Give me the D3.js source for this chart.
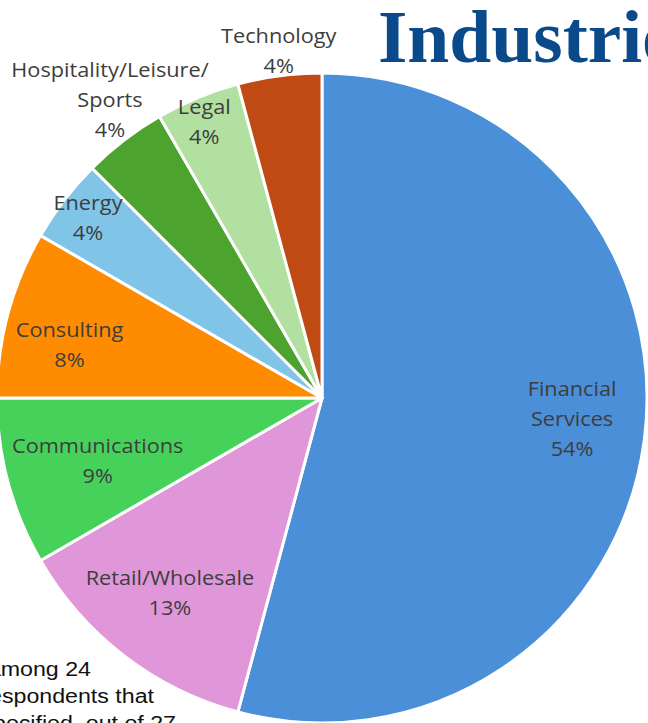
<!DOCTYPE html>
<html>
<head>
<meta charset="utf-8">
<script src="https://cdn.jsdelivr.net/npm/d3@7"></script>
<style>
	html, body { margin: 0; padding: 0; background: #fff; overflow: hidden; }
	svg { display: block; }
</style>
</head>
<body>
<div id="chart"></div>
<script>
// industries of respondents (counts out of 24), clockwise from 12 o'clock
var industries = [['Financial', 'Services'], ['Retail/Wholesale'], ['Communications'], ['Consulting'],
	['Energy'], ['Hospitality/Leisure/', 'Sports'], ['Legal'], ['Technology']];
var counts = [13, 3, 2, 2, 1, 1, 1, 1];
var pctLabels = ['54%', '13%', '9%', '8%', '4%', '4%', '4%', '4%'];
var colors = ['#4a8fd7', '#df97d9', '#46d15b', '#ff8b00', '#80c5e8', '#4ca32e', '#b2e0a0', '#bf4a14'];
var noteLines = ['among 24', 'respondents that', 'specified, out of 27'];

// label placement (radius from centre, angle nudge in degrees)
var labelR = [251, 247, 233, 258, 295, 366, 300, 350];
var labelNudge = [-2.6, 0.5, -0.7, -3.1, 0, 2.1, -0.6, 0.4];

var W = 648, H = 723, cx = 322, cy = 398, R = 325;

var svg = d3.select('#chart').append('svg')
	.attr('width', W)
	.attr('height', H);

var pie = d3.pie().sort(null).value(function(d){ return d; });
var arcs = pie(counts);
var arc = d3.arc().innerRadius(0).outerRadius(R);

var g = svg.append('g').attr('transform', 'translate(' + cx + ',' + cy + ')');

g.selectAll('path')
	.data(arcs)
	.enter()
	.append('path')
	.attr('d', arc)
	.attr('fill', function(d, i){ return colors[i]; })
	.attr('stroke', '#fff')
	.attr('stroke-width', 3)
	.attr('stroke-linejoin', 'round');

var lh = 30;
var labels = g.selectAll('text.lbl')
	.data(arcs)
	.enter()
	.append('text')
	.attr('class', 'lbl')
	.attr('text-anchor', 'middle')
	.attr('font-family', '"Open Sans", Lato, sans-serif')
	.attr('font-size', 20.5)
	.attr('font-weight', 500)
	.attr('fill', '#3d3d3d')
	.attr('transform', function(d, i){
		var a = (d.startAngle + d.endAngle) / 2 + labelNudge[i] * Math.PI / 180;
		var x = labelR[i] * Math.sin(a), y = -labelR[i] * Math.cos(a);
		return 'translate(' + x + ',' + y + ') scale(1.06,1)';
	});

labels.each(function(d, i){
	var lines = industries[i].concat([pctLabels[i]]);
	var t = d3.select(this);
	var y0 = -(lines.length - 1) * lh / 2 + 7;
	lines.forEach(function(s, k){
		t.append('tspan').attr('x', 0).attr('y', y0 + k * lh).text(s);
	});
});

// title (cropped at right edge in the source)
svg.append('text')
	.attr('transform', 'translate(378,62) scale(1.02,1)')
	.attr('font-family', '"Liberation Serif", "DejaVu Serif", serif')
	.attr('font-weight', 'bold')
	.attr('font-size', 74)
	.attr('fill', '#0a4a8a')
	.text('Industries');

// footnote, cut on the left
var noteEnd = [91, 154, 176];
svg.selectAll('text.note')
	.data(noteLines)
	.enter()
	.append('text')
	.attr('class', 'note')
	.attr('transform', function(d, i){
		return 'translate(' + noteEnd[i] + ',' + (676 + i * 27) + ') scale(1.16,1)';
	})
	.attr('text-anchor', 'end')
	.attr('font-family', '"Liberation Sans", Arial, sans-serif')
	.attr('font-size', 20)
	.attr('fill', '#111')
	.text(function(d){ return d; });
</script>
</body>
</html>
